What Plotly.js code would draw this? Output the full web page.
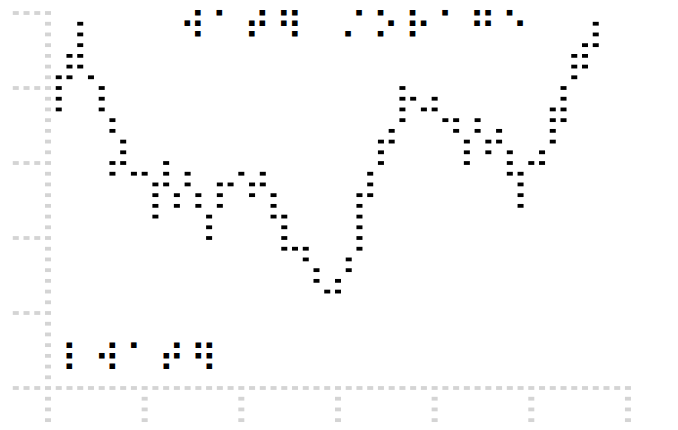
<!DOCTYPE html>
<html>
<head>
<meta charset="utf-8">
<script src="https://cdn.plot.ly/plotly-3.0.1.min.js"></script>
<style>html,body{margin:0;padding:0;background:#fff;}#chart{width:678px;height:430px;}</style>
</head>
<body>
<div id="chart"></div>
<script>
// ---- data (dot-grid units: x = column, y = level) ----
const columns = [1,2,3,4,5,6,7,8,9,10,11,12,13,14,15,16,17,18,19,20,21,22,23,24,25,26,27,28,29,30,31,32,33,34,35,36,37,38,39,40,41,42,43,44,45,46,47,48,49,50,51];
const columnValues = [
  [29,28,27,26],[31,30,29],[34,33,32,31,30],[29],[28,27,26],[25,24,21,20],[23,22,21],[20],[20],[19,18,17,16],
  [21,20,19],[18,17],[20,19],[18,17],[16,15,14],[19,18,17],[19],[20],[19,18],[20,19],
  [18,17,16],[16,15,14,13],[13],[13,12],[11,10],[9],[10,9],[12,11],[18,17,16,15,14,13],[20,19,18],
  [23,22,21],[24,23],[28,27,26,25],[27],[26],[27,26],[25],[25,24],[23,22,21],[25,24],
  [23,22],[24,23],[22,21,20],[20,19,18,17],[21],[22,21],[26,25,24,23],[28,27,26,25],[31,30,29],[32,31,30],
  [34,33,32]
];
const xTickVals = [0,9,18,27,36,45,54];
const yTickVals = [0,7,14,21,28,35];
const titleText = '⠠⡆⠂⢠⠆⢶⠀⠀⡐⢐⠄⡦⠐⠀⠶⠐⠄';
const legendText = '⠇⠐⠇⠁⠰⠃⠻';

// ---- build traces ----
const lx = [], ly = [];
columns.forEach((c, i) => columnValues[i].forEach(v => { lx.push(c); ly.push(v); }));

const tickLen = 3;
const ax = [], ay = [];
for (let v = -tickLen; v <= 35; v++) { ax.push(0); ay.push(v); }
for (let x = -tickLen; x <= 54; x++) { if (x !== 0) { ax.push(x); ay.push(0); } }
yTickVals.forEach(t => { if (t !== 0) for (let k = 1; k <= tickLen; k++) { ax.push(-k); ay.push(t); } });
xTickVals.forEach(t => { if (t !== 0) for (let k = 1; k <= tickLen; k++) { ax.push(t); ay.push(-k); } });

const dot = (color) => ({symbol: 'line-ew', size: 4.3, color: color, line: {width: 3.8, color: color}});

const traces = [
  {type: 'scatter', mode: 'markers', x: ax, y: ay, marker: dot('#d4d4d4'), hoverinfo: 'skip', cliponaxis: false},
  {type: 'scatter', mode: 'markers', x: lx, y: ly, marker: dot('#000000'), hoverinfo: 'skip', cliponaxis: false}
];

const W = 678, H = 430, pitch = 10.74, rowPitch = 10.714;
const x0 = -48 / pitch, x1 = x0 + W / pitch;
const yTop = 388 / rowPitch, yBot = -(H - 388) / rowPitch;

const fs = 38, asc = 0.93 * fs;
const spacing = (21.48 - 0.7324 * fs).toFixed(2);
const braille = t => '<span style="letter-spacing:' + spacing + 'px">' + t + '</span>';
const brailleFont = {family: 'DejaVu Sans', size: fs, color: '#000000'};

const layout = {
  width: W, height: H,
  margin: {l: 0, r: 0, t: 0, b: 0, pad: 0},
  paper_bgcolor: '#ffffff', plot_bgcolor: '#ffffff',
  showlegend: false,
  xaxis: {range: [x0, x1], showgrid: false, zeroline: false, showticklabels: false, ticks: '', showline: false, fixedrange: true},
  yaxis: {range: [yBot, yTop], showgrid: false, zeroline: false, showticklabels: false, ticks: '', showline: false, fixedrange: true},
  annotations: [
    {text: braille(titleText), showarrow: false, font: brailleFont, borderwidth: 0, borderpad: 0,
     xref: 'paper', yref: 'paper', x: 168.4 / W, xanchor: 'left', y: 1 - (29.6 - asc) / H, yanchor: 'top'},
    {text: braille(legendText), showarrow: false, font: brailleFont, borderwidth: 0, borderpad: 0,
     xref: 'paper', yref: 'paper', x: 61.0 / W, xanchor: 'left', y: 1 - (372.3 - asc) / H, yanchor: 'top'}
  ]
};

Plotly.newPlot('chart', traces, layout, {staticPlot: true, displayModeBar: false});
</script>
</body>
</html>
